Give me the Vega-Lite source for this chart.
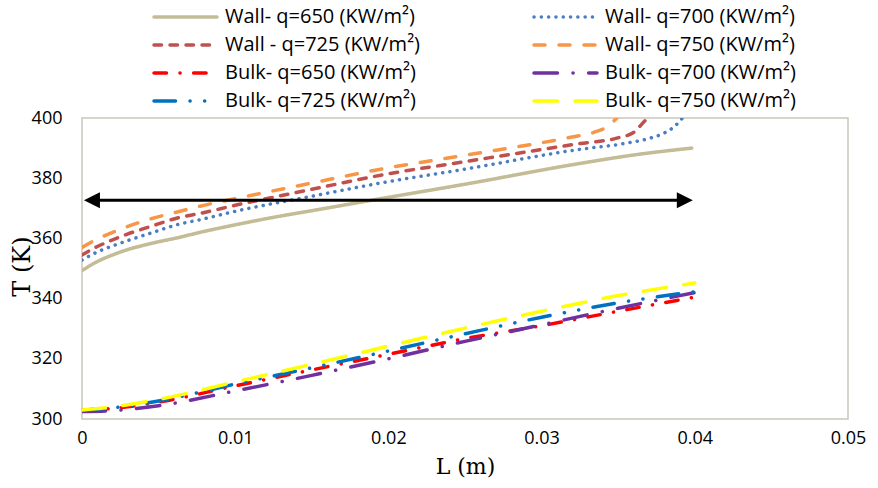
{
  "$schema": "https://vega.github.io/schema/vega-lite/v6.json",
  "width": 766,
  "height": 301,
  "autosize": {"type": "none"},
  "padding": {"left": 82, "top": 118, "right": 30, "bottom": 69},
  "background": "white",
  "config": {
    "view": {"stroke": "#C9C6BA", "strokeWidth": 1.5},
    "font": "Open Sans",
    "axis": {"domain": false, "ticks": false, "grid": false, "labelFont": "Open Sans", "labelFontSize": 18, "labelColor": "#000", "titleFont": "DejaVu Serif", "titleFontSize": 22, "titleFontWeight": "normal", "titleColor": "#000"}
  },
  "datasets": {
    "curves": [
      {"series": "Wall- q=650 (KW/m²)", "L": 0, "T": 349.3},
      {"series": "Wall- q=650 (KW/m²)", "L": 0.001, "T": 352.3},
      {"series": "Wall- q=650 (KW/m²)", "L": 0.002, "T": 354.5},
      {"series": "Wall- q=650 (KW/m²)", "L": 0.003, "T": 356.3},
      {"series": "Wall- q=650 (KW/m²)", "L": 0.0045, "T": 358.3},
      {"series": "Wall- q=650 (KW/m²)", "L": 0.0064, "T": 360.4},
      {"series": "Wall- q=650 (KW/m²)", "L": 0.0077, "T": 362},
      {"series": "Wall- q=650 (KW/m²)", "L": 0.01, "T": 364.5},
      {"series": "Wall- q=650 (KW/m²)", "L": 0.0125, "T": 367},
      {"series": "Wall- q=650 (KW/m²)", "L": 0.015, "T": 369.2},
      {"series": "Wall- q=650 (KW/m²)", "L": 0.0195, "T": 373.2},
      {"series": "Wall- q=650 (KW/m²)", "L": 0.025, "T": 378},
      {"series": "Wall- q=650 (KW/m²)", "L": 0.0325, "T": 384.9},
      {"series": "Wall- q=650 (KW/m²)", "L": 0.036, "T": 387.7},
      {"series": "Wall- q=650 (KW/m²)", "L": 0.0398, "T": 390},

      {"series": "Wall- q=700 (KW/m²)", "L": 0, "T": 352.8},
      {"series": "Wall- q=700 (KW/m²)", "L": 0.001, "T": 355.5},
      {"series": "Wall- q=700 (KW/m²)", "L": 0.002, "T": 357.5},
      {"series": "Wall- q=700 (KW/m²)", "L": 0.003, "T": 359.3},
      {"series": "Wall- q=700 (KW/m²)", "L": 0.0045, "T": 361.8},
      {"series": "Wall- q=700 (KW/m²)", "L": 0.0064, "T": 364.8},
      {"series": "Wall- q=700 (KW/m²)", "L": 0.0077, "T": 366.2},
      {"series": "Wall- q=700 (KW/m²)", "L": 0.01, "T": 369},
      {"series": "Wall- q=700 (KW/m²)", "L": 0.015, "T": 374},
      {"series": "Wall- q=700 (KW/m²)", "L": 0.0195, "T": 378.4},
      {"series": "Wall- q=700 (KW/m²)", "L": 0.025, "T": 383},
      {"series": "Wall- q=700 (KW/m²)", "L": 0.0325, "T": 389.6},
      {"series": "Wall- q=700 (KW/m²)", "L": 0.0355, "T": 391.6},
      {"series": "Wall- q=700 (KW/m²)", "L": 0.037, "T": 393.2},
      {"series": "Wall- q=700 (KW/m²)", "L": 0.038, "T": 395},
      {"series": "Wall- q=700 (KW/m²)", "L": 0.0387, "T": 397.3},
      {"series": "Wall- q=700 (KW/m²)", "L": 0.0392, "T": 400},

      {"series": "Wall - q=725 (KW/m²)", "L": 0, "T": 354.5},
      {"series": "Wall - q=725 (KW/m²)", "L": 0.001, "T": 357.3},
      {"series": "Wall - q=725 (KW/m²)", "L": 0.002, "T": 359.5},
      {"series": "Wall - q=725 (KW/m²)", "L": 0.003, "T": 361.5},
      {"series": "Wall - q=725 (KW/m²)", "L": 0.0045, "T": 364},
      {"series": "Wall - q=725 (KW/m²)", "L": 0.0064, "T": 367},
      {"series": "Wall - q=725 (KW/m²)", "L": 0.0077, "T": 368.3},
      {"series": "Wall - q=725 (KW/m²)", "L": 0.01, "T": 371},
      {"series": "Wall - q=725 (KW/m²)", "L": 0.015, "T": 376.3},
      {"series": "Wall - q=725 (KW/m²)", "L": 0.0195, "T": 381},
      {"series": "Wall - q=725 (KW/m²)", "L": 0.025, "T": 385.5},
      {"series": "Wall - q=725 (KW/m²)", "L": 0.0325, "T": 391.5},
      {"series": "Wall - q=725 (KW/m²)", "L": 0.0349, "T": 393.3},
      {"series": "Wall - q=725 (KW/m²)", "L": 0.036, "T": 395.2},
      {"series": "Wall - q=725 (KW/m²)", "L": 0.0366, "T": 398.3},
      {"series": "Wall - q=725 (KW/m²)", "L": 0.037, "T": 400.5},

      {"series": "Wall- q=750 (KW/m²)", "L": 0, "T": 357},
      {"series": "Wall- q=750 (KW/m²)", "L": 0.001, "T": 359.8},
      {"series": "Wall- q=750 (KW/m²)", "L": 0.002, "T": 362},
      {"series": "Wall- q=750 (KW/m²)", "L": 0.003, "T": 364},
      {"series": "Wall- q=750 (KW/m²)", "L": 0.0045, "T": 366.5},
      {"series": "Wall- q=750 (KW/m²)", "L": 0.0064, "T": 369},
      {"series": "Wall- q=750 (KW/m²)", "L": 0.0077, "T": 370.7},
      {"series": "Wall- q=750 (KW/m²)", "L": 0.01, "T": 373.2},
      {"series": "Wall- q=750 (KW/m²)", "L": 0.015, "T": 378.4},
      {"series": "Wall- q=750 (KW/m²)", "L": 0.0195, "T": 383},
      {"series": "Wall- q=750 (KW/m²)", "L": 0.025, "T": 387.6},
      {"series": "Wall- q=750 (KW/m²)", "L": 0.0319, "T": 393.6},
      {"series": "Wall- q=750 (KW/m²)", "L": 0.0334, "T": 395.2},
      {"series": "Wall- q=750 (KW/m²)", "L": 0.0344, "T": 397.5},
      {"series": "Wall- q=750 (KW/m²)", "L": 0.035, "T": 400.5},

      {"series": "Bulk- q=650 (KW/m²)", "L": 0, "T": 303},
      {"series": "Bulk- q=650 (KW/m²)", "L": 0.002, "T": 303.5},
      {"series": "Bulk- q=650 (KW/m²)", "L": 0.005, "T": 305.6},
      {"series": "Bulk- q=650 (KW/m²)", "L": 0.01, "T": 311},
      {"series": "Bulk- q=650 (KW/m²)", "L": 0.015, "T": 316.3},
      {"series": "Bulk- q=650 (KW/m²)", "L": 0.02, "T": 321.5},
      {"series": "Bulk- q=650 (KW/m²)", "L": 0.025, "T": 326.7},
      {"series": "Bulk- q=650 (KW/m²)", "L": 0.03, "T": 331},
      {"series": "Bulk- q=650 (KW/m²)", "L": 0.035, "T": 335.8},
      {"series": "Bulk- q=650 (KW/m²)", "L": 0.04, "T": 340.5},

      {"series": "Bulk- q=700 (KW/m²)", "L": 0, "T": 302.5},
      {"series": "Bulk- q=700 (KW/m²)", "L": 0.002, "T": 302.8},
      {"series": "Bulk- q=700 (KW/m²)", "L": 0.005, "T": 304.4},
      {"series": "Bulk- q=700 (KW/m²)", "L": 0.01, "T": 309.3},
      {"series": "Bulk- q=700 (KW/m²)", "L": 0.015, "T": 314.5},
      {"series": "Bulk- q=700 (KW/m²)", "L": 0.02, "T": 320},
      {"series": "Bulk- q=700 (KW/m²)", "L": 0.025, "T": 325.8},
      {"series": "Bulk- q=700 (KW/m²)", "L": 0.03, "T": 331.3},
      {"series": "Bulk- q=700 (KW/m²)", "L": 0.035, "T": 336.8},
      {"series": "Bulk- q=700 (KW/m²)", "L": 0.04, "T": 342},

      {"series": "Bulk- q=725 (KW/m²)", "L": 0, "T": 303},
      {"series": "Bulk- q=725 (KW/m²)", "L": 0.002, "T": 303.7},
      {"series": "Bulk- q=725 (KW/m²)", "L": 0.005, "T": 306},
      {"series": "Bulk- q=725 (KW/m²)", "L": 0.01, "T": 311.6},
      {"series": "Bulk- q=725 (KW/m²)", "L": 0.015, "T": 317},
      {"series": "Bulk- q=725 (KW/m²)", "L": 0.02, "T": 322.6},
      {"series": "Bulk- q=725 (KW/m²)", "L": 0.025, "T": 328.3},
      {"series": "Bulk- q=725 (KW/m²)", "L": 0.03, "T": 333.8},
      {"series": "Bulk- q=725 (KW/m²)", "L": 0.035, "T": 338.6},
      {"series": "Bulk- q=725 (KW/m²)", "L": 0.04, "T": 342.3},

      {"series": "Bulk- q=750 (KW/m²)", "L": 0, "T": 303},
      {"series": "Bulk- q=750 (KW/m²)", "L": 0.002, "T": 304},
      {"series": "Bulk- q=750 (KW/m²)", "L": 0.005, "T": 306.5},
      {"series": "Bulk- q=750 (KW/m²)", "L": 0.01, "T": 312.3},
      {"series": "Bulk- q=750 (KW/m²)", "L": 0.015, "T": 318.2},
      {"series": "Bulk- q=750 (KW/m²)", "L": 0.02, "T": 324.2},
      {"series": "Bulk- q=750 (KW/m²)", "L": 0.025, "T": 330.2},
      {"series": "Bulk- q=750 (KW/m²)", "L": 0.03, "T": 335.8},
      {"series": "Bulk- q=750 (KW/m²)", "L": 0.035, "T": 341},
      {"series": "Bulk- q=750 (KW/m²)", "L": 0.04, "T": 345.2}
    ],
    "arrow": [{"L1": 0.0006, "L2": 0.0393, "T": 372.7}],
    "heads": [
      {"L": 0.00065, "T": 372.7, "dir": "left"},
      {"L": 0.03935, "T": 372.7, "dir": "right"}
    ]
  },
  "layer": [
    {
      "data": {"name": "curves"},
      "mark": {"type": "line", "strokeWidth": 3.5, "strokeCap": "round", "clip": true, "interpolate": "monotone"},
      "encoding": {
        "x": {"field": "L", "type": "quantitative", "scale": {"domain": [0, 0.05], "nice": false, "zero": false},
          "axis": {"title": "L (m)", "values": [0, 0.01, 0.02, 0.03, 0.04, 0.05], "labelExpr": "datum.value == 0 ? '0' : format(datum.value, '.2f')", "labelPadding": 10, "labelFlush": false, "titleBaseline": "top", "titleY": 37}},
        "y": {"field": "T", "type": "quantitative", "scale": {"domain": [300, 400], "nice": false, "zero": false},
          "axis": {"title": "T (K)", "values": [300, 320, 340, 360, 380, 400], "labelPadding": 20, "labelFlush": false, "titleFontSize": 24, "titleX": -48, "titleY": 148, "titleAngle": -90, "titleBaseline": "bottom", "titleAlign": "center"}},
        "color": {"field": "series", "type": "nominal",
          "scale": {"domain": ["Wall- q=650 (KW/m²)", "Wall - q=725 (KW/m²)", "Bulk- q=650 (KW/m²)", "Bulk- q=725 (KW/m²)", "Wall- q=700 (KW/m²)", "Wall- q=750 (KW/m²)", "Bulk- q=700 (KW/m²)", "Bulk- q=750 (KW/m²)"],
                    "range": ["#C4BC96", "#C0504D", "#FF0000", "#0070C0", "#4A7EC0", "#F79646", "#7030A0", "#FFFF00"]},
          "legend": {"title": null, "orient": "none", "legendX": 70, "legendY": -115, "columns": 2, "columnPadding": 112, "rowPadding": 0, "clipHeight": 28, "symbolType": "stroke", "symbolSize": 3969, "symbolStrokeWidth": 3.5, "labelFont": "Open Sans", "labelFontSize": 20, "labelColor": "#000", "labelOffset": 6, "labelLimit": 0, "padding": 0,
            "encode": {"symbols": {"update": {"strokeCap": {"value": "round"}}}}}},
        "strokeDash": {"field": "series", "type": "nominal",
          "scale": {"domain": ["Wall- q=650 (KW/m²)", "Wall - q=725 (KW/m²)", "Bulk- q=650 (KW/m²)", "Bulk- q=725 (KW/m²)", "Wall- q=700 (KW/m²)", "Wall- q=750 (KW/m²)", "Bulk- q=700 (KW/m²)", "Bulk- q=750 (KW/m²)"],
                    "range": [[1, 0], [7.5, 8.5], [12.5, 13.5, 0.1, 13.5], [21.5, 14.5, 0.1, 14.5, 0.1, 14.5], [0.1, 7.2], [11, 14], [23.5, 15.5, 0.1, 15.5], [23.5, 17.5]]},
          "legend": {"title": null, "orient": "none", "legendX": 70, "legendY": -115, "columns": 2, "columnPadding": 112, "rowPadding": 0, "clipHeight": 28, "symbolType": "stroke", "symbolSize": 3969, "symbolStrokeWidth": 3.5, "labelFont": "Open Sans", "labelFontSize": 20, "labelColor": "#000", "labelOffset": 6, "labelLimit": 0, "padding": 0,
            "encode": {"symbols": {"update": {"strokeCap": {"value": "round"}}}}}}
      }
    },
    {
      "data": {"name": "arrow"},
      "mark": {"type": "rule", "strokeWidth": 3, "color": "#000"},
      "encoding": {
        "x": {"field": "L1", "type": "quantitative"},
        "x2": {"field": "L2"},
        "y": {"field": "T", "type": "quantitative"}
      }
    },
    {
      "data": {"name": "heads"},
      "mark": {"type": "point", "filled": true, "color": "#000", "opacity": 1, "size": 256, "strokeWidth": 0},
      "encoding": {
        "x": {"field": "L", "type": "quantitative"},
        "y": {"field": "T", "type": "quantitative"},
        "shape": {"field": "dir", "type": "nominal", "scale": {"domain": ["left", "right"], "range": ["M -1,0 L 1,-1 L 1,1 Z", "M 1,0 L -1,-1 L -1,1 Z"]}, "legend": null}
      }
    }
  ]
}
